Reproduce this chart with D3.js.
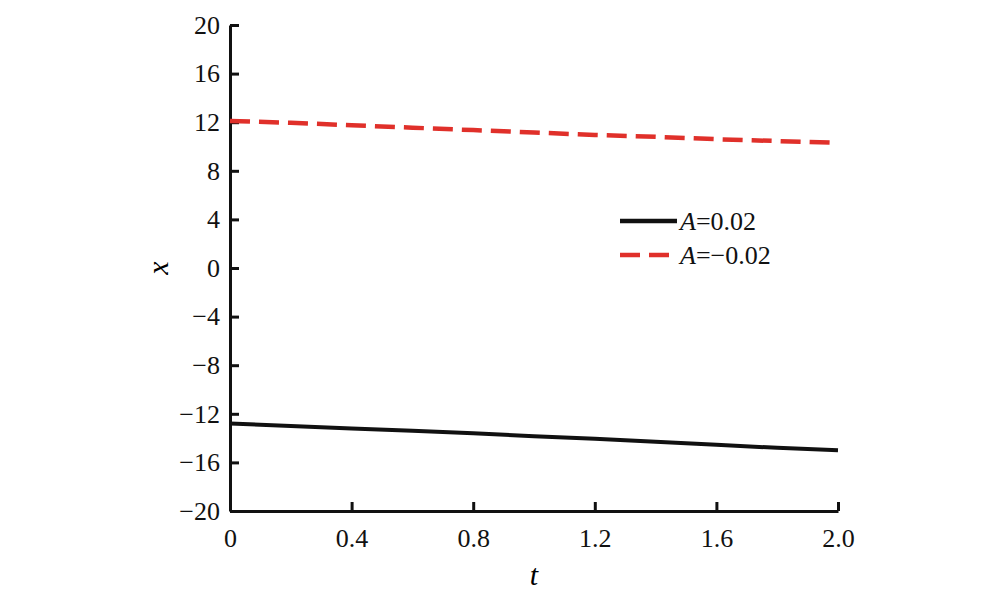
<!DOCTYPE html>
<meta charset="utf-8">
<style>
    body { margin: 0; background: #fff; }
    svg text { font-family: "Liberation Serif", "DejaVu Serif", serif !important; }
</style>
<body>
<script src="https://d3js.org/d3.v7.min.js"></script>
<script>
// Data
var tValues = [0, 0.2, 0.4, 0.6, 0.8, 1.0, 1.2, 1.4, 1.6, 1.8, 2.0];
var xPositive = [-12.8, -13.0, -13.2, -13.4, -13.6, -13.85, -14.05, -14.3, -14.55, -14.8, -15.0];
var xNegative = [12.1, 11.95, 11.75, 11.55, 11.35, 11.15, 10.95, 10.8, 10.6, 10.45, 10.3];
var xTicks = [0, 0.4, 0.8, 1.2, 1.6, 2.0];
var yTicks = [-20, -16, -12, -8, -4, 0, 4, 8, 12, 16, 20];
var seriesNames = ["A=0.02", "A=\u22120.02"];

var width = 1000, height = 597;
var svg = d3.select("body").append("svg")
    .attr("width", width)
    .attr("height", height);

var x = d3.scaleLinear().domain([0, 2]).range([230, 838]);
var y = d3.scaleLinear().domain([-20, 20]).range([511, 25]);

function fmt(v) { return v < 0 ? "\u2212" + Math.abs(v) : String(v); }

// Bottom axis, inward ticks
var xAxis = svg.append("g")
    .attr("transform", "translate(0," + y(-20) + ")")
    .call(d3.axisBottom(x).tickValues(xTicks).tickSizeInner(-9).tickSizeOuter(0)
        .tickPadding(18).tickFormat(function (d) { return d3.format(".1f")(d).replace(/^0\.0$/, "0"); }));
// Left axis, inward ticks
var yAxis = svg.append("g")
    .attr("transform", "translate(" + x(0) + ",0)")
    .call(d3.axisLeft(y).tickValues(yTicks).tickSizeInner(-9).tickSizeOuter(0)
        .tickPadding(10).tickFormat(fmt));

[xAxis, yAxis].forEach(function (a) {
    a.attr("font-family", null).attr("font-size", null);
    a.select(".domain").attr("stroke", "#111").attr("stroke-width", 3);
    a.selectAll(".tick line").attr("stroke", "#111").attr("stroke-width", 3);
    a.selectAll(".tick text").attr("font-size", 26).attr("fill", "#111");
});

// Axis titles
svg.append("text").attr("x", 534).attr("y", 585).attr("text-anchor", "middle")
    .attr("font-size", 30).attr("font-style", "italic").text("t");
svg.append("text").attr("transform", "translate(168,268) rotate(-90)").attr("text-anchor", "middle")
    .attr("font-size", 30).attr("font-style", "italic").text("x");

var line = d3.line().x(function (d, i) { return x(tValues[i]); }).y(function (d) { return y(d); });

svg.append("path").datum(xPositive).attr("d", line)
    .attr("fill", "none").attr("stroke", "#111").attr("stroke-width", 4);
svg.append("path").datum(xNegative).attr("d", line)
    .attr("fill", "none").attr("stroke", "#e0302a").attr("stroke-width", 4.5)
    .attr("stroke-dasharray", "20,9");

// Legend
var legend = svg.append("g");
var styles = [{ c: "#111", d: null }, { c: "#e0302a", d: "20,9" }];
seriesNames.forEach(function (name, i) {
    var ly = 221 + i * 34;
    legend.append("line").attr("x1", 620).attr("x2", 677).attr("y1", ly).attr("y2", ly)
        .attr("stroke", styles[i].c).attr("stroke-width", 4.5)
        .attr("stroke-dasharray", styles[i].d);
    var t = legend.append("text").attr("x", 680).attr("y", ly + 9).attr("font-size", 26).attr("fill", "#111");
    var parts = name.split("=");
    t.append("tspan").attr("font-style", "italic").text(parts[0]);
    t.append("tspan").text("=" + parts[1]);
});
</script>
</body>
